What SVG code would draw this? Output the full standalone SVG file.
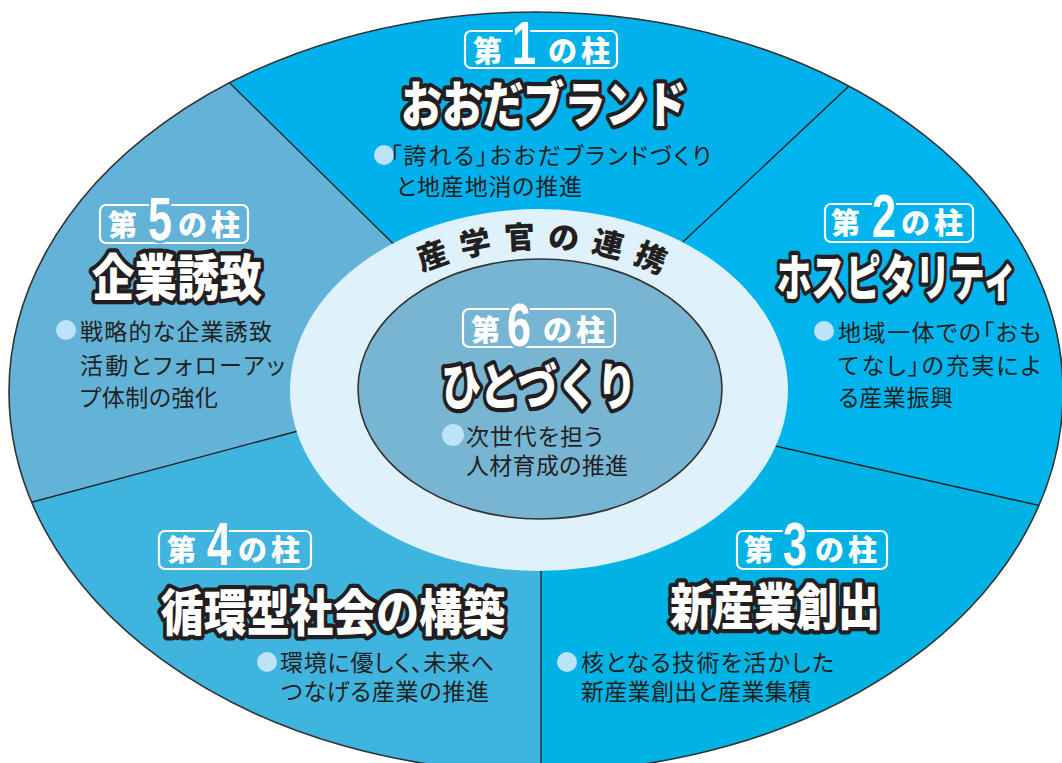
<svg xmlns="http://www.w3.org/2000/svg" width="1062" height="763" viewBox="0 0 1062 763">
<style>
.ttl{font-family:"Noto Sans CJK JP","Noto Sans CJK SC",sans-serif;font-weight:900;font-size:50px;fill:#fff;stroke:#231f20;stroke-width:8.5px;stroke-linejoin:round;paint-order:stroke;text-anchor:middle}
.bdg{font-family:"Noto Sans CJK JP",sans-serif;font-weight:900;font-size:29px;fill:#fff}
.num{font-family:"Liberation Sans","Noto Sans",sans-serif;font-weight:700;font-size:62px;fill:#fff;stroke-width:6px;paint-order:stroke;stroke-linejoin:round;text-anchor:middle}
.box{fill:none;stroke:#fff;stroke-width:2.2}
.txt{font-family:"Noto Sans CJK JP",sans-serif;font-size:23px;fill:#231f20;font-feature-settings:"palt"}
.dot{fill:#bde3f8}
.div{stroke:#231f20;stroke-width:1.3;fill:none}
.ring{font-family:"Noto Sans CJK JP",sans-serif;font-weight:900;font-size:31px;fill:#231f20;letter-spacing:12px}
</style>
<defs>
<clipPath id="oc"><ellipse cx="536" cy="392" rx="527" ry="380"/></clipPath>
<path id="arc" d="M330,390 A209,142 0 0 1 748,390"/>
</defs>
<g id="sectors" clip-path="url(#oc)">
<rect x="0" y="0" width="1062" height="763" fill="#00b1eb"/>
<polygon points="540,390 652,271 962,-20 1130,-20 1130,526 740,438" fill="#00b5ed"/>
<polygon points="540,390 740,438 1130,526 1130,800 541,800 541,540" fill="#00b3e5"/>
<polygon points="540,390 541,540 541,800 -20,800 -20,516 339,420" fill="#3fb4df"/>
<polygon points="540,390 339,420 -20,516 -20,-20 125,-20 430,280" fill="#62b3d7"/>
</g>
<g id="connectors" clip-path="url(#oc)">
<line class="div" x1="125" y1="-20" x2="430" y2="280"/>
<line class="div" x1="962" y1="-20" x2="652" y2="271"/>
<line class="div" x1="1130" y1="526" x2="740" y2="438"/>
<line class="div" x1="541" y1="800" x2="541" y2="540"/>
<line class="div" x1="-20" y1="516" x2="339" y2="420"/>
</g>
<ellipse cx="536" cy="392" rx="527" ry="380" fill="none" stroke="#333" stroke-width="1.6"/>
<g id="ring">
<ellipse cx="539" cy="390" rx="249" ry="181" fill="#dff1fb"/>
<text class="ring"><textPath href="#arc" startOffset="51.5%" text-anchor="middle">産学官の連携</textPath></text>
</g>
<g id="pillar6">
<ellipse cx="540" cy="389" rx="182" ry="130" fill="#78b5d3" stroke="#333" stroke-width="1.6"/>
<rect class="box" x="463" y="309" width="152" height="38" rx="6"/>
<text class="bdg" x="471" y="341">第</text>
<text class="num" transform="translate(519,346) scale(0.7,1)" stroke="#78b5d3">6</text>
<text class="bdg" x="543" y="341" textLength="62">の柱</text>
<text class="ttl" transform="translate(539,405) scale(0.792,1)">ひとづくり</text>
<circle class="dot" cx="453" cy="435" r="11"/>
<text class="txt" x="466" y="445" textLength="137">次世代を担う</text>
<text class="txt" x="466" y="474" textLength="162">人材育成の推進</text>
</g>
<g id="pillar1">
<rect class="box" x="465" y="31" width="152" height="37" rx="6"/>
<text class="bdg" x="473" y="62">第</text>
<text class="num" transform="translate(524,64) scale(0.7,1)" stroke="#00b1eb">1</text>
<text class="bdg" x="548" y="62" textLength="62">の柱</text>
<text class="ttl" transform="translate(544,123) scale(0.817,1)">おおだブランド</text>
<circle class="dot" cx="384" cy="155" r="10"/>
<text class="txt" x="390" y="164" textLength="321">「誇れる」おおだブランドづくり</text>
<text class="txt" x="396" y="195" textLength="186">と地産地消の推進</text>
</g>
<g id="pillar2">
<rect class="box" x="825" y="204" width="148" height="38" rx="6"/>
<text class="bdg" x="831" y="234">第</text>
<text class="num" transform="translate(884,237) scale(0.7,1)" stroke="#00b5ed">2</text>
<text class="bdg" x="901" y="234" textLength="62">の柱</text>
<text class="ttl" transform="translate(897,296) scale(0.694,1)">ホスピタリティ</text>
<circle class="dot" cx="824" cy="331" r="10"/>
<text class="txt" x="838" y="341" textLength="203">地域一体での「おも</text>
<text class="txt" x="838" y="374" textLength="203">てなし」の充実によ</text>
<text class="txt" x="838" y="406" textLength="115">る産業振興</text>
</g>
<g id="pillar3">
<rect class="box" x="737" y="531" width="150" height="38" rx="6"/>
<text class="bdg" x="744" y="561">第</text>
<text class="num" transform="translate(795,565) scale(0.7,1)" stroke="#00b3e5">3</text>
<text class="bdg" x="815" y="561" textLength="62">の柱</text>
<text class="ttl" transform="translate(775,625) scale(0.84,1)">新産業創出</text>
<circle class="dot" cx="567" cy="662" r="10"/>
<text class="txt" x="581" y="671" textLength="253">核となる技術を活かした</text>
<text class="txt" x="581" y="700" textLength="230">新産業創出と産業集積</text>
</g>
<g id="pillar4">
<rect class="box" x="159" y="531" width="152" height="38" rx="6"/>
<text class="bdg" x="167" y="561">第</text>
<text class="num" transform="translate(219,565) scale(0.7,1)" stroke="#3fb4df">4</text>
<text class="bdg" x="238" y="561" textLength="62">の柱</text>
<text class="ttl" transform="translate(333,631) scale(0.8625,1)">循環型社会の構築</text>
<circle class="dot" cx="267" cy="662" r="10"/>
<text class="txt" x="280" y="671" textLength="214">環境に優しく、未来へ</text>
<text class="txt" x="281" y="700" textLength="208">つなげる産業の推進</text>
</g>
<g id="pillar5">
<rect class="box" x="100" y="205" width="148" height="38" rx="6"/>
<text class="bdg" x="108" y="236">第</text>
<text class="num" transform="translate(160,240) scale(0.7,1)" stroke="#62b3d7">5</text>
<text class="bdg" x="178" y="236" textLength="62">の柱</text>
<text class="ttl" transform="translate(177,296) scale(0.85,1)">企業誘致</text>
<circle class="dot" cx="66" cy="330" r="10"/>
<text class="txt" x="80" y="340" textLength="192">戦略的な企業誘致</text>
<text class="txt" x="80" y="374" textLength="205">活動とフォローアッ</text>
<text class="txt" x="80" y="406" textLength="138">プ体制の強化</text>
</g>
</svg>
